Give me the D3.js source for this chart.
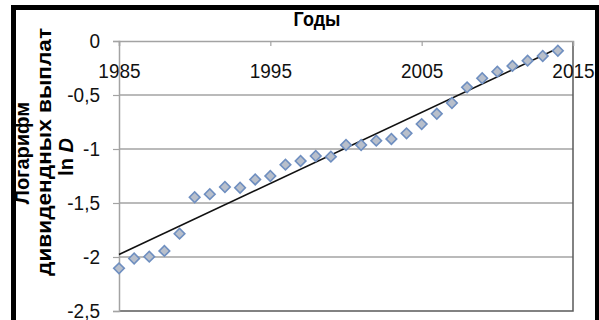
<!DOCTYPE html>
<html>
<head>
<meta charset="utf-8">
<script src="https://cdn.jsdelivr.net/npm/d3@7"></script>
<style>
  html, body { margin: 0; padding: 0; background: #fff; }
  svg { display: block; font-family: "Liberation Sans", Arial, sans-serif; }
</style>
</head>
<body>
<svg id="chart" width="599" height="320"></svg>
<script>
// Log of dividend payments by year
const years = [1985, 1986, 1987, 1988, 1989, 1990, 1991, 1992, 1993, 1994,
               1995, 1996, 1997, 1998, 1999, 2000, 2001, 2002, 2003, 2004,
               2005, 2006, 2007, 2008, 2009, 2010, 2011, 2012, 2013, 2014];
const lnD = [-2.105, -2.014, -1.997, -1.944, -1.784, -1.447, -1.418, -1.352, -1.359, -1.282,
             -1.250, -1.145, -1.111, -1.065, -1.071, -0.963, -0.963, -0.923, -0.907, -0.855,
             -0.769, -0.674, -0.574, -0.429, -0.345, -0.284, -0.231, -0.182, -0.139, -0.090];
const xTicks = [1985, 1995, 2005, 2015];
const yTicks = [0, -0.5, -1, -1.5, -2, -2.5];

const svg = d3.select("#chart");

const x = d3.scaleLinear().domain([1985, 2015]).range([119, 573]);
const y = d3.scaleLinear().domain([-2.5, 0]).range([311, 41]);

// Horizontal gridlines
svg.append("g")
  .selectAll("line")
  .data(yTicks.filter(t => t !== 0 && t !== -2.5))
  .join("line")
  .attr("x1", x(1985)).attr("x2", x(2015))
  .attr("y1", d => y(d)).attr("y2", d => y(d))
  .attr("stroke", "#a3a3a3").attr("stroke-width", 1.5);

// Plot-area frame on the bottom and right
svg.append("path")
  .attr("d", `M${x(1985)},${y(-2.5)}H${x(2015)}V${y(0)}`)
  .attr("fill", "none").attr("stroke", "#5a5a5a").attr("stroke-width", 1.5);

// X axis along the zero line
const xAxis = svg.append("g")
  .attr("transform", `translate(0,${y(0)})`)
  .call(d3.axisBottom(x).tickValues(xTicks).tickSize(5).tickPadding(15).tickFormat(d3.format("d")));
xAxis.select(".domain").attr("stroke", "#a3a3a3").attr("stroke-width", 1.5);
xAxis.selectAll(".tick line").attr("stroke", "#a3a3a3").attr("stroke-width", 1.2);
xAxis.selectAll(".tick text").attr("font-size", 19).attr("fill", "#111")
  .attr("font-family", "Liberation Sans, Arial, sans-serif")
  .attr("transform", "scale(1,1.1)");

// Y axis
const yAxis = svg.append("g")
  .attr("transform", `translate(${x(1985)},0)`)
  .call(d3.axisLeft(y).tickValues(yTicks).tickSize(6).tickPadding(13)
    .tickFormat(d => d === 0 ? "0" : String(d).replace(".", ",")));
yAxis.select(".domain").attr("stroke", "#a3a3a3").attr("stroke-width", 1.5);
yAxis.selectAll(".tick line").attr("stroke", "#a3a3a3").attr("stroke-width", 1.2);
yAxis.selectAll(".tick text").attr("font-size", 19).attr("fill", "#111")
  .attr("font-family", "Liberation Sans, Arial, sans-serif")
  .attr("transform", "scale(1,1.1)");

// Least-squares trend line
const n = years.length;
const mx = d3.mean(years), my = d3.mean(lnD);
const slope = d3.sum(years, (v, i) => (v - mx) * (lnD[i] - my)) / d3.sum(years, v => (v - mx) ** 2);
const icpt = my - slope * mx;
const trend = [years[0], years[n - 1]].map(v => [v, icpt + slope * v]);
svg.append("path")
  .attr("d", d3.line().x(d => x(d[0])).y(d => y(d[1]))(trend))
  .attr("fill", "none").attr("stroke", "#111").attr("stroke-width", 1.6);

// Diamond markers
const diamond = d3.symbol(d3.symbolSquare).size(56);
svg.append("g")
  .selectAll("path")
  .data(years.map((v, i) => [v, lnD[i]]))
  .join("path")
  .attr("d", diamond)
  .attr("transform", d => `translate(${x(d[0])},${y(d[1])}) rotate(45)`)
  .attr("fill", "#b8bfcb").attr("stroke", "#6f8fc0").attr("stroke-width", 1.6);

// Axis titles
svg.append("text")
  .attr("transform", "translate(317,26) scale(1,1.1)")
  .attr("text-anchor", "middle")
  .attr("font-size", 18).attr("font-weight", "bold")
  .text("Годы");

const yTitle = svg.append("g").attr("font-weight", "bold").attr("font-size", 20).attr("text-anchor", "middle");
yTitle.append("text")
  .attr("transform", "translate(29,153) rotate(-90)")
  .text("Логарифм");
yTitle.append("text")
  .attr("transform", "translate(51,152) rotate(-90)")
  .attr("textLength", 248).attr("lengthAdjust", "spacingAndGlyphs")
  .text("дивидендных выплат");
const t3 = yTitle.append("text")
  .attr("transform", "translate(73,157) rotate(-90)");
t3.append("tspan").text("ln ");
t3.append("tspan").attr("font-style", "italic").text("D");

// Outer black frame
const frame = svg.append("g").attr("fill", "#000");
frame.append("rect").attr("x", 11).attr("y", 5).attr("width", 588).attr("height", 5);
frame.append("rect").attr("x", 11).attr("y", 5).attr("width", 5).attr("height", 315);
frame.append("rect").attr("x", 595).attr("y", 5).attr("width", 4).attr("height", 315);
</script>
</body>
</html>
